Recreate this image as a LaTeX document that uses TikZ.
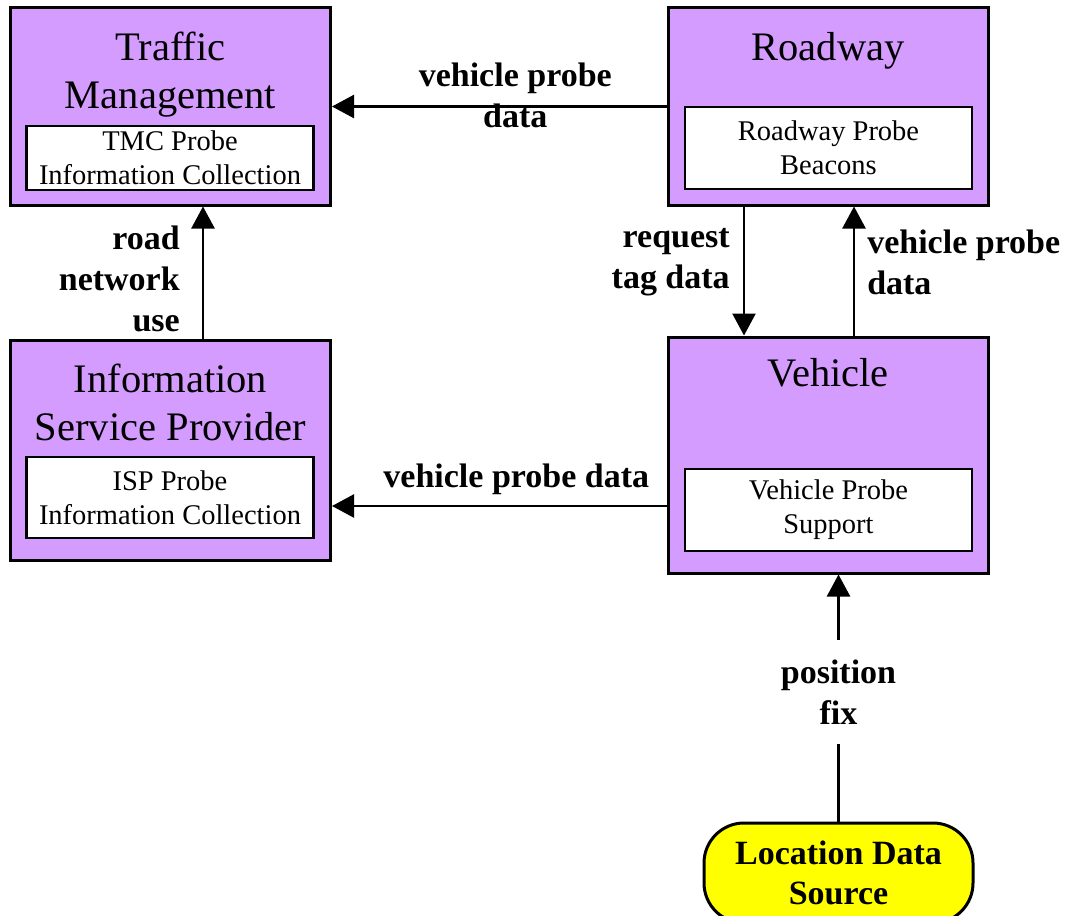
\documentclass[tikz,border=0pt]{standalone}
\usepackage{fontspec}
\setmainfont{Liberation Serif}
\usetikzlibrary{arrows.meta,positioning,calc}
\definecolor{archpurple}{RGB}{213,156,255}
\definecolor{termyellow}{RGB}{255,255,0}

\begin{document}
\begin{tikzpicture}[x=1pt,y=-1pt,
    bigbox/.style={draw,line width=3pt,fill=archpurple,minimum width=320pt,inner sep=0pt},
    subbox/.style={draw,line width=2.5pt,fill=white,minimum width=287pt,inner sep=0pt,
        align=center,font=\fontsize{28.5}{34}\selectfont},
    titletext/.style={align=center,inner sep=0pt,font=\fontsize{40.5}{48}\selectfont},
    flow/.style={line width=2.5pt,-{Triangle[length=22pt,width=23pt]}},
    flowlabel/.style={align=center,inner sep=0pt,font=\fontsize{34}{41}\selectfont\bfseries}]
                        \useasboundingbox (0,0) rectangle (1067,915);
                        \node[bigbox,minimum height=197pt] (tm) at (170.5,106.5) {};
                        \node[bigbox,minimum height=197pt] (rw) at (828,106.5) {};
                        \node[bigbox,minimum height=220pt] (isp) at (170.5,450) {};
                        \node[bigbox,minimum height=236pt] (veh) at (828,455) {};
                        \node[titletext] (tmtitle) at (170.5,75) {Traffic\\Management};
                        \node[titletext] (rwtitle) at (828,51) {Roadway};
                        \node[titletext] (isptitle) at (170.5,402) {Information\\Service Provider};
                        \node[titletext] (vehtitle) at (828,373) {Vehicle};
                        \node[subbox,minimum height=64pt] (tmc) at (170,158) {TMC Probe\\Information Collection};
                        \node[subbox,minimum height=82pt] (beacons) at (828.5,148) {Roadway Probe\\Beacons};
                        \node[subbox,minimum height=81pt] (ispc) at (170,497.5) {ISP Probe\\Information Collection};
                        \node[subbox,minimum height=82pt] (vps) at (828.5,510) {Vehicle Probe\\Support};
                        \node[draw,line width=3pt,fill=termyellow,rounded corners=40pt,minimum width=269pt,
                            minimum height=100pt,align=center,inner sep=0pt,
                            font=\fontsize{34}{40}\selectfont\bfseries] (loc) at (838.5,873) {Location Data\\Source};
                        \draw[flow] (rw.west) -- (tm.east)
                            node[flowlabel,midway,xshift=16pt,yshift=11pt] {vehicle probe\\data};
                        \draw[flow] ([yshift=-51pt]veh.west) -- ([yshift=-51pt]veh.west -| isp.east)
                            node[flowlabel,midway,xshift=17pt,yshift=27pt] {vehicle probe data};
                        \draw[flow] ([xshift=32.5pt]isp.north) -- ([xshift=32.5pt]tm.south)
                            node[flowlabel,midway,anchor=east,align=right,xshift=-22pt,yshift=-6pt] {road\\network\\use};
                        \draw[flow] ([xshift=-84pt]rw.south) -- ([xshift=-84pt]veh.north)
                            node[flowlabel,midway,anchor=east,align=right,xshift=-13pt,yshift=8.5pt] {request\\tag data};
                        \draw[flow] ([xshift=26pt]veh.north) -- ([xshift=26pt]rw.south)
                            node[flowlabel,midway,anchor=west,align=left,xshift=12pt,yshift=8.5pt] {vehicle probe\\data};
                        \draw[flow] (loc.north) -- (loc.north |- veh.south)
                            node[flowlabel,midway,fill=white,inner xsep=4pt,inner ysep=20pt,yshift=6pt] {position\\fix};
                    \end{tikzpicture}
\end{document}
